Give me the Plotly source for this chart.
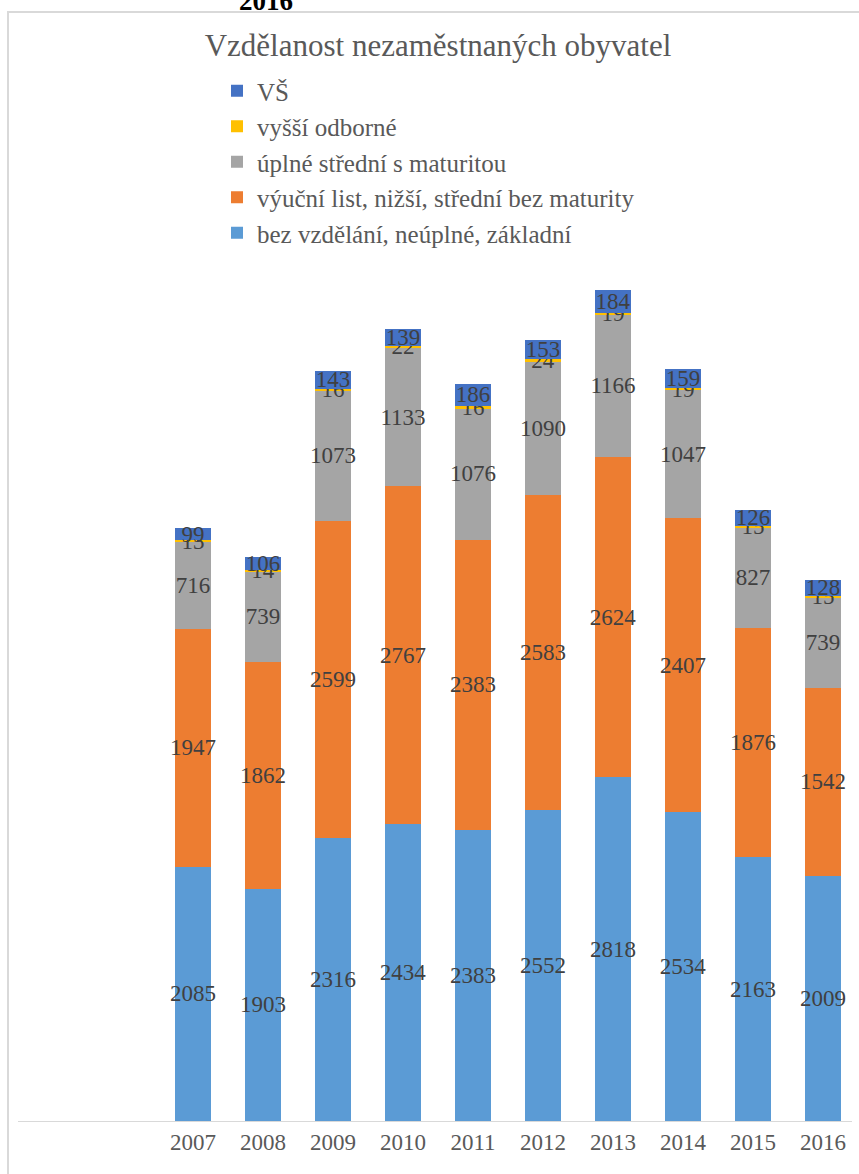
import plotly.graph_objects as go

years = ["2007", "2008", "2009", "2010", "2011", "2012", "2013", "2014", "2015", "2016"]
bez_vzdelani = [2085, 1903, 2316, 2434, 2383, 2552, 2818, 2534, 2163, 2009]
vyucni_list = [1947, 1862, 2599, 2767, 2383, 2583, 2624, 2407, 1876, 1542]
uplne_stredni = [716, 739, 1073, 1133, 1076, 1090, 1166, 1047, 827, 739]
vyssi_odborne = [13, 14, 16, 22, 16, 24, 19, 19, 15, 15]
vs = [99, 106, 143, 139, 186, 153, 184, 159, 126, 128]

series = [
    ("bez vzdělání, neúplné, základní", bez_vzdelani, "#5B9BD5", 5),
    ("výuční list, nižší, střední bez maturity", vyucni_list, "#ED7D31", 4),
    ("úplné střední s maturitou", uplne_stredni, "#A5A5A5", 3),
    ("vyšší odborné", vyssi_odborne, "#FFC000", 2),
    ("VŠ", vs, "#4472C4", 1),
]

SERIF = "Liberation Serif"

fig = go.Figure()
for name, vals, color, rank in series:
    fig.add_trace(go.Bar(
        x=years, y=vals, name=name,
        marker=dict(color=color, line=dict(width=0)),
        text=[str(v) for v in vals],
        textposition="inside",
        insidetextanchor="middle",
        textangle=0,
        textfont=dict(family=SERIF, size=23, color="#404040"),
        legendgroup=name,
        legendrank=rank,
    ))

W, H = 859, 1174
ml, mr, mt, mb = 18, 7, 267, 53

fig.update_layout(
    width=W, height=H,
    margin=dict(l=ml, r=mr, t=mt, b=mb),
    barmode="stack",
    bargap=0.486,
    font=dict(family=SERIF, color="#595959"),
    paper_bgcolor="white",
    plot_bgcolor="white",
    uniformtext=dict(minsize=23, mode="show"),
    title=dict(
        text="Vzdělanost nezaměstnaných obyvatel",
        x=438 / W, xanchor="center",
        y=1 - 45 / H, yanchor="middle",
        font=dict(family=SERIF, size=31, color="#595959"),
    ),
    legend=dict(
        x=(217 - ml) / (W - ml - mr), xanchor="left",
        y=(H - mb - 68) / (H - mt - mb), yanchor="top",
        font=dict(family=SERIF, size=25, color="#595959"),
        tracegroupgap=0,
        bgcolor="rgba(0,0,0,0)",
    ),
    xaxis=dict(
        type="category",
        range=[-2.5, 9.414],
        showline=True, linecolor="#D9D9D9", linewidth=1,
        showgrid=False, ticks="",
        tickfont=dict(family=SERIF, size=23, color="#595959"),
        fixedrange=True,
    ),
    yaxis=dict(
        range=[0, 7000],
        visible=False,
        showgrid=False,
        fixedrange=True,
    ),
    showlegend=True,
)

plot_h = H - mt - mb
plot_w = W - ml - mr
# chart area border (top-left visible)
fig.add_shape(
    type="rect", xref="paper", yref="paper",
    x0=(8 - ml) / plot_w, x1=(W + 20 - ml) / plot_w,
    y0=(H - mb - (H + 20)) / plot_h, y1=(H - mb - 12) / plot_h,
    line=dict(color="#D9D9D9", width=2), fillcolor="rgba(0,0,0,0)",
    layer="below",
)
# cut-off heading above the chart
fig.add_annotation(
    text="<b>2016</b>", xref="paper", yref="paper",
    x=(266 - ml) / plot_w, xanchor="center",
    y=(H - mb - 1) / plot_h, yanchor="middle",
    showarrow=False,
    font=dict(family=SERIF, size=27, color="#000000"),
)

fig.write_html("out.html")
